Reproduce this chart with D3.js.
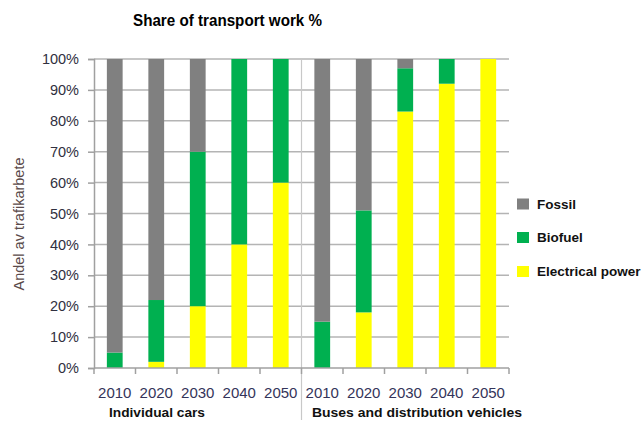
<!DOCTYPE html>
<html>
<head>
<meta charset="utf-8">
<script src="https://cdn.jsdelivr.net/npm/d3@7"></script>
<style>
  body { margin:0; background:#fff; }
  svg { font-family:"Liberation Sans", Arial, sans-serif; }
</style>
</head>
<body>
<svg id="chart" width="644" height="423"></svg>
<script>
// 데이터
const groups=["Individual cars", "Buses and distribution  vehicles"];
const years=["2010", "2020", "2030", "2040", "2050"];
const seriesNames=["Electrical power", "Biofuel", "Fossil"];
const legendOrder=["Fossil", "Biofuel", "Electrical power"];
const colors=["#ffff00", "#00b050", "#808080"];

const carsElectrical=[0, 2, 20, 40, 60];
const carsBiofuel=[5, 20, 50, 60, 40];
const carsFossil=[95, 78, 30, 0, 0];

const busElectrical=[0, 18, 83, 92, 100];
const busBiofuel=[15, 33, 14, 8, 0];
const busFossil=[85, 49, 3, 0, 0];

const yTicks=[0, 10, 20, 30, 40, 50, 60, 70, 80, 90, 100];

// 표로 합치기
let rows=[];
years.forEach((year, i)=>{
    rows.push({ key:"c"+year, year:year, "Electrical power":carsElectrical[i], "Biofuel":carsBiofuel[i], "Fossil":carsFossil[i] });
});
years.forEach((year, i)=>{
    rows.push({ key:"b"+year, year:year, "Electrical power":busElectrical[i], "Biofuel":busBiofuel[i], "Fossil":busFossil[i] });
});

const svg=d3.select("#chart");
const plotLeft=94, plotRight=509, plotTop=59, plotBottom=368;

const x=d3.scaleBand()
    .domain(rows.map(d=>d.key))
    .range([plotLeft, plotRight])
    .paddingInner(0.62).paddingOuter(0.31);
const xTickScale=d3.scaleLinear().domain([0, rows.length]).range([plotLeft, plotRight]);
const y=d3.scaleLinear().domain([0, 100]).range([plotBottom, plotTop]);
const color=d3.scaleOrdinal().domain(seriesNames).range(colors);

svg.append("rect").attr("width", 644).attr("height", 423).attr("fill", "#fff");

// 가로 그리드
svg.append("g")
    .selectAll("line").data(yTicks.slice(1)).join("line")
    .attr("x1", plotLeft).attr("x2", plotRight)
    .attr("y1", d=>y(d)).attr("y2", d=>y(d))
    .attr("stroke", "#b4b4b4").attr("stroke-width", 1.5);

// 그룹 구분선
svg.append("line")
    .attr("x1", xTickScale(5)).attr("x2", xTickScale(5))
    .attr("y1", plotTop).attr("y2", 420)
    .attr("stroke", "#c8c8c8").attr("stroke-width", 1.2);

// 누적 막대
const stacked=d3.stack().keys(seriesNames)(rows);
svg.append("g")
    .selectAll("g").data(stacked).join("g")
    .attr("fill", d=>color(d.key))
    .selectAll("rect").data(d=>d).join("rect")
    .attr("x", d=>x(d.data.key))
    .attr("width", x.bandwidth())
    .attr("y", d=>y(d[1]))
    .attr("height", d=>y(d[0])-y(d[1]));

// y 축
const yAxis=svg.append("g")
    .attr("transform", `translate(${plotLeft},0)`)
    .call(d3.axisLeft(y).tickValues(yTicks).tickFormat(d=>d+"%").tickSize(6).tickPadding(9));
yAxis.select(".domain").attr("stroke", "#a0a0a0").attr("stroke-width", 1.5);
yAxis.selectAll(".tick line").attr("stroke", "#a0a0a0").attr("stroke-width", 1.5);
yAxis.selectAll("text").attr("font-size", 14.5).attr("fill", "#303040");

// x 축
const xAxis=svg.append("g")
    .attr("transform", `translate(0,${plotBottom})`);
xAxis.append("line")
    .attr("x1", plotLeft).attr("x2", plotRight)
    .attr("stroke", "#a0a0a0").attr("stroke-width", 1.5);
xAxis.selectAll("line.tick").data(d3.range(rows.length+1)).join("line")
    .attr("class", "tick")
    .attr("x1", d=>xTickScale(d)).attr("x2", d=>xTickScale(d))
    .attr("y1", 0).attr("y2", 6)
    .attr("stroke", "#a0a0a0").attr("stroke-width", 1.5);
xAxis.selectAll("text").data(rows).join("text")
    .attr("x", d=>x(d.key)+x.bandwidth()/2)
    .attr("y", 30)
    .attr("text-anchor", "middle")
    .attr("font-size", 15)
    .attr("fill", "#34345a")
    .text(d=>d.year);

// 그룹 이름
svg.append("text")
    .attr("x", 109).attr("y", 417)
    .attr("font-size", 12).attr("font-weight", "bold").attr("fill", "#111")
    .attr("textLength", 96).attr("lengthAdjust", "spacingAndGlyphs")
    .text(groups[0]);
svg.append("text")
    .attr("x", 312).attr("y", 417)
    .attr("font-size", 12).attr("font-weight", "bold").attr("fill", "#111")
    .attr("textLength", 210).attr("lengthAdjust", "spacingAndGlyphs")
    .text(groups[1]);

// 제목
svg.append("text")
    .attr("x", 133).attr("y", 26)
    .attr("font-size", 16.5).attr("font-weight", "bold").attr("fill", "#000")
    .attr("textLength", 189).attr("lengthAdjust", "spacingAndGlyphs")
    .text("Share of transport work %");

// y 축 제목
svg.append("text")
    .attr("transform", "translate(24,224) rotate(-90)")
    .attr("text-anchor", "middle")
    .attr("font-size", 14.5).attr("fill", "#5a4a4a")
    .text("Andel av trafikarbete");

// 범례
const legend=svg.append("g");
const legendY=[204, 237.5, 271.5];
legendOrder.forEach((name, i)=>{
    legend.append("rect")
        .attr("x", 517).attr("y", legendY[i]-5.5)
        .attr("width", 12).attr("height", 11)
        .attr("fill", color(name));
    legend.append("text")
        .attr("x", 537).attr("y", legendY[i])
        .attr("dy", "0.35em")
        .attr("font-size", 13.5).attr("font-weight", "bold").attr("fill", "#111")
        .text(name);
});
</script>
</body>
</html>
